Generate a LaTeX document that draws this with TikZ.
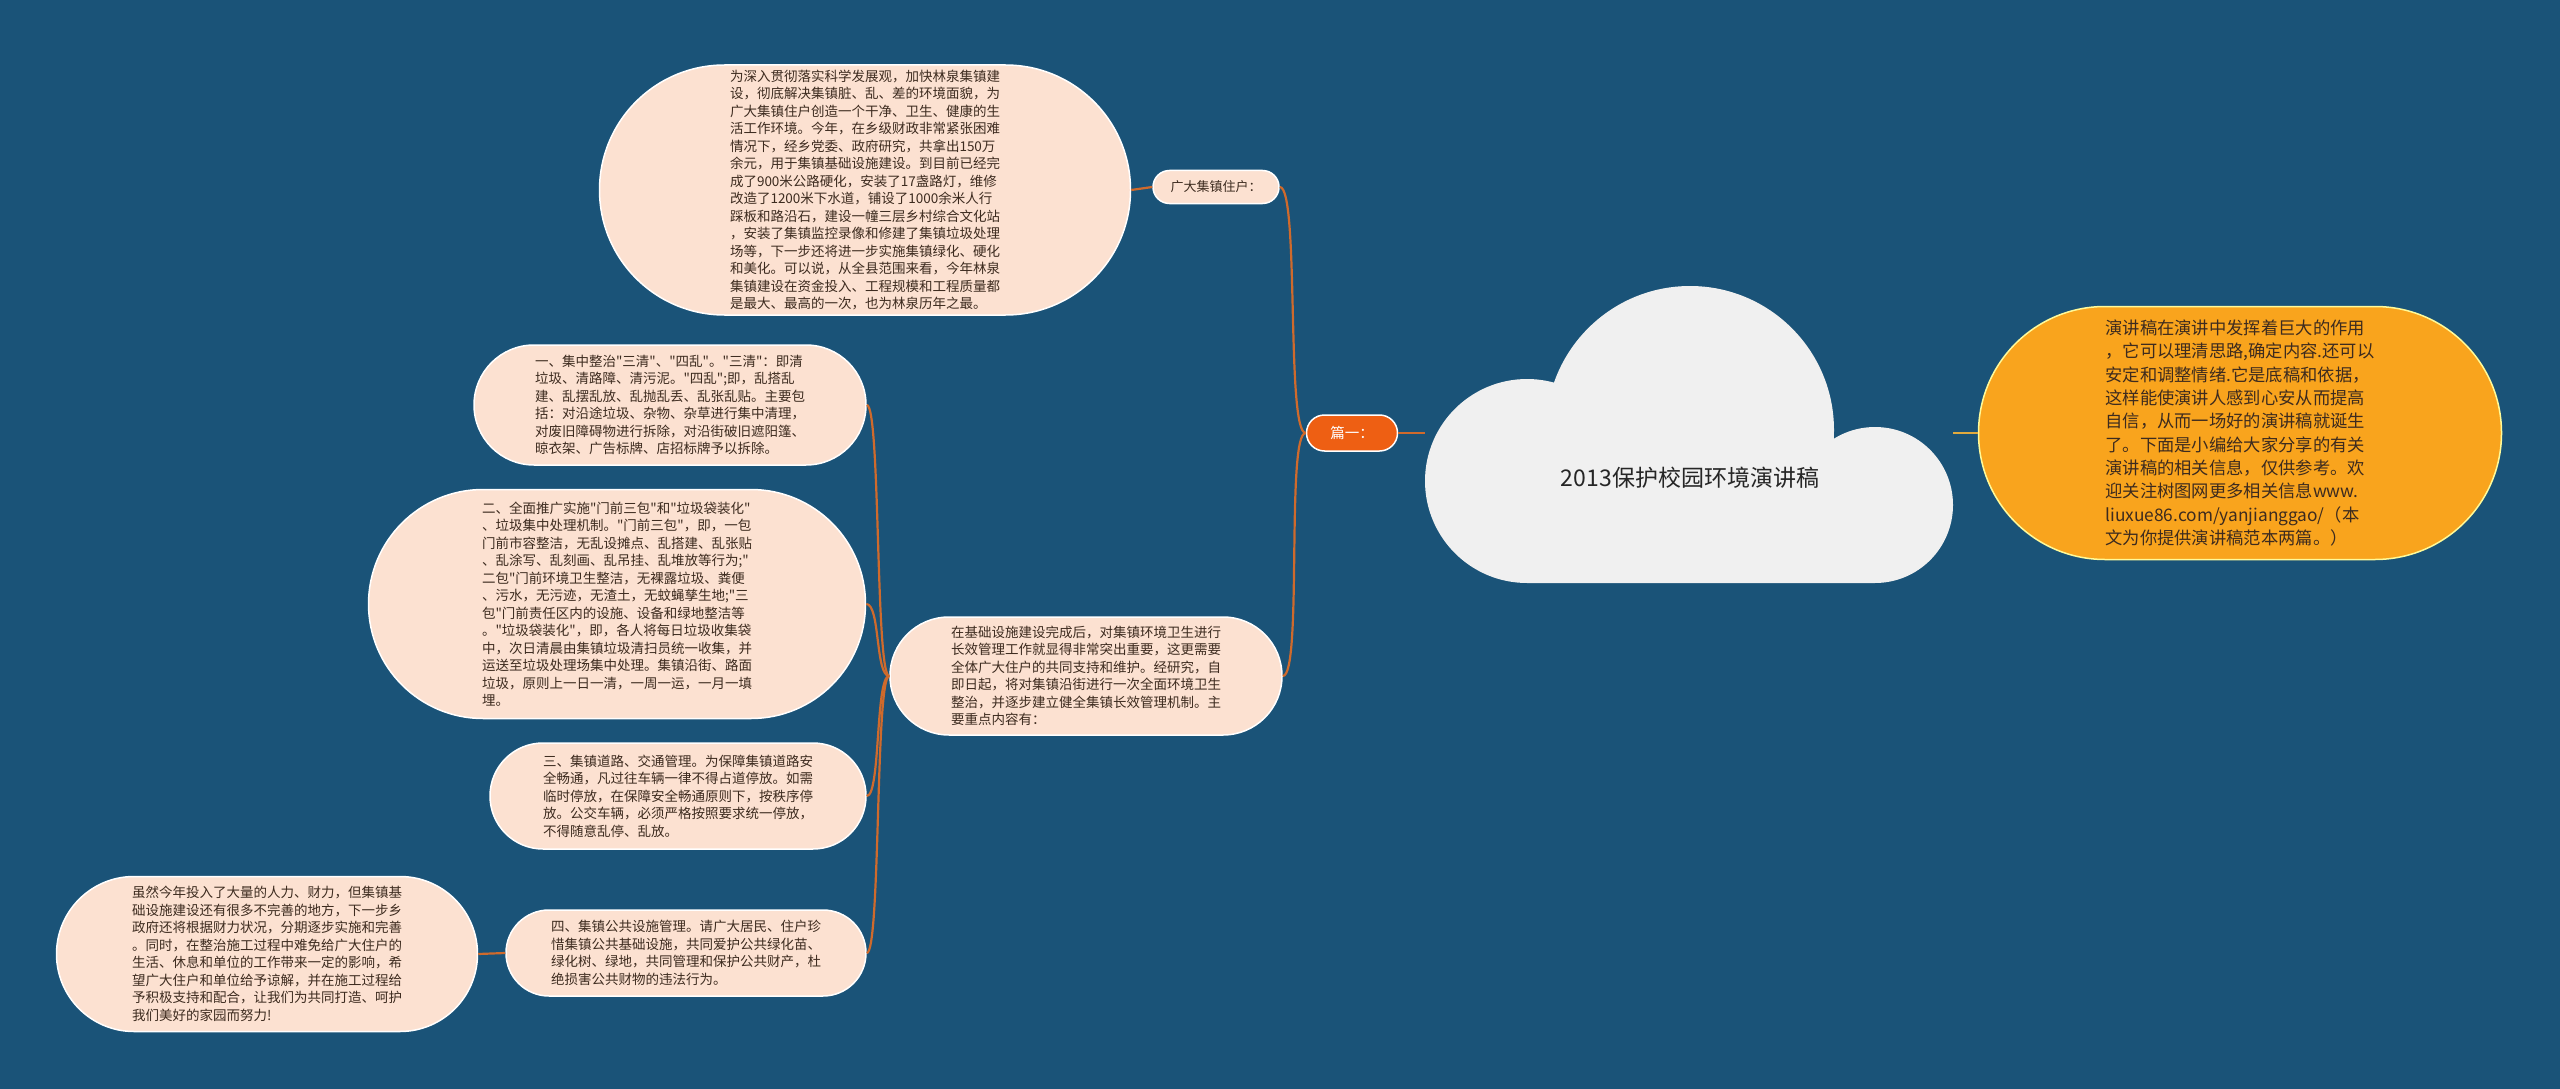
\documentclass[tikz,border=0pt]{standalone}
\usepackage{fontspec}
\setmainfont{Noto Sans CJK SC}[Ligatures=TeXOff]
\usepackage{xcolor}
\usetikzlibrary{shapes.misc,positioning}

\definecolor{bgblue}{HTML}{1A5378}
\definecolor{peach}{HTML}{FCE1D1}
\definecolor{inkbrown}{HTML}{3D2B1F}
\definecolor{cloudgray}{HTML}{F0F0F0}
\definecolor{amber}{HTML}{F9A41D}
\definecolor{flame}{HTML}{EE5F13}
\definecolor{linkorange}{HTML}{CF6A2C}
\definecolor{linkgold}{HTML}{E0AA3E}

\begin{document}
\begin{tikzpicture}[
    x=1pt, y=-1pt,
    leaf/.style={rounded rectangle, draw=white, line width=1.5pt, fill=peach, text=inkbrown, align=left, inner sep=0pt, font=\fontsize{13.5}{17.5}\selectfont},
    tag/.style={rounded rectangle, draw=white, line width=1.5pt, align=center, inner sep=0pt},
    link/.style={draw=linkorange, line width=2.2pt},
    goldlink/.style={draw=linkgold, line width=2.2pt},
]
    % Background
    \fill [bgblue] (0,0) rectangle (2560,1089);

    % Root cloud
    \fill [cloudgray] (1527,481) circle [radius=102pt] (1690,430) circle [radius=144pt] (1875,505) circle [radius=78pt] (1527,500) rectangle (1875,583);
    \node [text=black!85, font=\fontsize{23}{28}\selectfont] (root) at (1690,478) {2013保护校园环境演讲稿};
    \coordinate (rootL) at (1425,433);
    \coordinate (rootR) at (1953,433);

    % Right side
    \node [tag, fill=amber, draw=yellow!40, text=inkbrown, align=left, minimum width=523pt, minimum height=253pt, font=\fontsize{17.3}{23.3}\selectfont] (summary) at (2240,433) {演讲稿在演讲中发挥着巨大的作用\\，它可以理清思路,确定内容.还可以\\安定和调整情绪.它是底稿和依据，\\这样能使演讲人感到心安从而提高\\自信，从而一场好的演讲稿就诞生\\了。下面是小编给大家分享的有关\\演讲稿的相关信息，仅供参考。欢\\迎关注树图网更多相关信息www.\\liuxue86.com/yanjianggao/（本\\文为你提供演讲稿范本两篇。）};

    % Left side: first level
    \node [tag, fill=flame, text=white, minimum width=91pt, minimum height=36pt, font=\fontsize{14.5}{17}\selectfont] (pian) at (1352,433) {篇一：};

    % Second level
    \node [tag, fill=peach, text=inkbrown, minimum width=126pt, minimum height=33pt, font=\fontsize{13}{16}\selectfont] (guangda) at (1216,187) {广大集镇住户：};
    \node [leaf, minimum width=392pt, minimum height=118pt] (measures) at (1086,676) {在基础设施建设完成后，对集镇环境卫生进行\\长效管理工作就显得非常突出重要，这更需要\\全体广大住户的共同支持和维护。经研究，自\\即日起，将对集镇沿街进行一次全面环境卫生\\整治，并逐步建立健全集镇长效管理机制。主\\要重点内容有：};

    % Third level
    \node [leaf, minimum width=531pt, minimum height=250pt] (intro) at (865,190) {为深入贯彻落实科学发展观，加快林泉集镇建\\设，彻底解决集镇脏、乱、差的环境面貌，为\\广大集镇住户创造一个干净、卫生、健康的生\\活工作环境。今年，在乡级财政非常紧张困难\\情况下，经乡党委、政府研究，共拿出150万\\余元，用于集镇基础设施建设。到目前已经完\\成了900米公路硬化，安装了17盏路灯，维修\\改造了1200米下水道，铺设了1000余米人行\\踩板和路沿石，建设一幢三层乡村综合文化站\\，安装了集镇监控录像和修建了集镇垃圾处理\\场等，下一步还将进一步实施集镇绿化、硬化\\和美化。可以说，从全县范围来看，今年林泉\\集镇建设在资金投入、工程规模和工程质量都\\是最大、最高的一次，也为林泉历年之最。};
    \node [leaf, minimum width=392pt, minimum height=120pt] (c1) at (670,405) {一、集中整治"三清"、"四乱"。"三清"：即清\\垃圾、清路障、清污泥。"四乱";即，乱搭乱\\建、乱摆乱放、乱抛乱丢、乱张乱贴。主要包\\括：对沿途垃圾、杂物、杂草进行集中清理，\\对废旧障碍物进行拆除，对沿街破旧遮阳篷、\\晾衣架、广告标牌、店招标牌予以拆除。};
    \node [leaf, minimum width=497pt, minimum height=229pt] (c2) at (617,604) {二、全面推广实施"门前三包"和"垃圾袋装化"\\、垃圾集中处理机制。"门前三包"，即，一包\\门前市容整洁，无乱设摊点、乱搭建、乱张贴\\、乱涂写、乱刻画、乱吊挂、乱堆放等行为;"\\二包"门前环境卫生整洁，无裸露垃圾、粪便\\、污水，无污迹，无渣土，无蚊蝇孳生地;"三\\包"门前责任区内的设施、设备和绿地整洁等\\。"垃圾袋装化"，即，各人将每日垃圾收集袋\\中，次日清晨由集镇垃圾清扫员统一收集，并\\运送至垃圾处理场集中处理。集镇沿街、路面\\垃圾，原则上一日一清，一周一运，一月一填\\埋。};
    \node [leaf, minimum width=376pt, minimum height=106pt] (c3) at (678,796) {三、集镇道路、交通管理。为保障集镇道路安\\全畅通，凡过往车辆一律不得占道停放。如需\\临时停放，在保障安全畅通原则下，按秩序停\\放。公交车辆，必须严格按照要求统一停放，\\不得随意乱停、乱放。};
    \node [leaf, minimum width=360pt, minimum height=86pt] (c4) at (686,953) {四、集镇公共设施管理。请广大居民、住户珍\\惜集镇公共基础设施，共同爱护公共绿化苗、\\绿化树、绿地，共同管理和保护公共财产，杜\\绝损害公共财物的违法行为。};

    % Fourth level
    \node [leaf, minimum width=421pt, minimum height=155pt] (note) at (267,954) {虽然今年投入了大量的人力、财力，但集镇基\\础设施建设还有很多不完善的地方，下一步乡\\政府还将根据财力状况，分期逐步实施和完善\\。同时，在整治施工过程中难免给广大住户的\\生活、休息和单位的工作带来一定的影响，希\\望广大住户和单位给予谅解，并在施工过程给\\予积极支持和配合，让我们为共同打造、呵护\\我们美好的家园而努力!};

    % Root links
    \draw [link] (pian.east) -- (rootL);
    \draw [goldlink] (rootR) -- (summary.west);

    % Branch links
    \draw [link] (pian.west) .. controls +(-20,0) and +(20,0) .. (guangda.east);
    \draw [link] (pian.west) .. controls +(-20,0) and +(20,0) .. (measures.east);
    \draw [link] (guangda.west) -- (intro.east);
    \foreach \c in {c1,c2,c3,c4}
        \draw [link] (measures.west) .. controls +(-14,0) and +(14,0) .. (\c.east);
    \draw [link] (c4.west) -- (note.east);
\end{tikzpicture}
\end{document}
